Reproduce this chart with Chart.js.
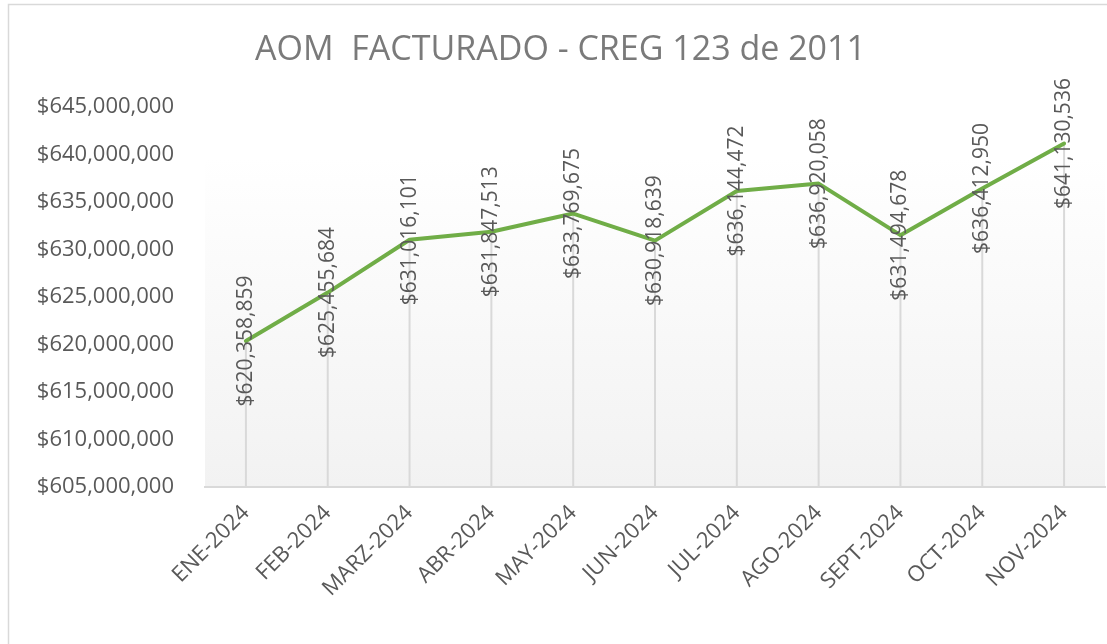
<!DOCTYPE html>
<html>
<head>
<meta charset="utf-8">
<script src="https://cdn.jsdelivr.net/npm/chart.js@4/dist/chart.umd.min.js"></script>
<style>
  html, body { margin: 0; padding: 0; background: #ffffff; }
  #wrap { width: 1107px; height: 644px; }
</style>
</head>
<body>
<div id="wrap"><canvas id="c" width="1107" height="644"></canvas></div>
<script>
const categories = ["ENE-2024","FEB-2024","MARZ-2024","ABR-2024","MAY-2024","JUN-2024","JUL-2024","AGO-2024","SEPT-2024","OCT-2024","NOV-2024"];
const aomValues = [620358859, 625455684, 631016101, 631847513, 633769675, 630918639, 636144472, 636920058, 631494678, 636412950, 641130536];
const yTickValues = [605000000, 610000000, 615000000, 620000000, 625000000, 630000000, 635000000, 640000000, 645000000];
const chartTitle = "AOM  FACTURADO - CREG 123 de 2011";

const FONT = "'Open Sans', 'DejaVu Sans', sans-serif";
const fmt = v => "$" + Math.round(v).toLocaleString("en-US");

const framePlugin = {
  id: "frame",
  beforeDraw(chart) {
    const ctx = chart.ctx;
    const a = chart.chartArea;
    ctx.save();
    ctx.fillStyle = "#ffffff";
    ctx.fillRect(0, 0, chart.width, chart.height);
    ctx.strokeStyle = "#d9d9d9";
    ctx.lineWidth = 1.5;
    ctx.strokeRect(8.5, 4.5, chart.width + 20, chart.height + 20);
    const gTop = a.top + 50;
    const g = ctx.createLinearGradient(0, gTop, 0, a.bottom);
    g.addColorStop(0, "#ffffff");
    g.addColorStop(1, "#f2f2f2");
    ctx.fillStyle = g;
    ctx.fillRect(a.left, gTop, a.right - a.left, a.bottom - gTop);
    ctx.restore();
  }
};

const dropLinePlugin = {
  id: "dropLines",
  beforeDatasetsDraw(chart) {
    const ctx = chart.ctx;
    const meta = chart.getDatasetMeta(0);
    const bottom = chart.chartArea.bottom;
    ctx.save();
    ctx.strokeStyle = "#d9d9d9";
    ctx.lineWidth = 2;
    meta.data.forEach(pt => {
      ctx.beginPath();
      ctx.moveTo(pt.x, pt.y);
      ctx.lineTo(pt.x, bottom);
      ctx.stroke();
    });
    ctx.restore();
  },
  afterDatasetsDraw(chart) {
    const ctx = chart.ctx;
    const meta = chart.getDatasetMeta(0);
    const vals = chart.data.datasets[0].data;
    ctx.save();
    ctx.fillStyle = "#595959";
    ctx.font = "21px " + FONT;
    ctx.textAlign = "center";
    ctx.textBaseline = "middle";
    meta.data.forEach((pt, i) => {
      ctx.save();
      ctx.translate(pt.x, pt.y);
      ctx.rotate(-Math.PI / 2);
      ctx.fillText(fmt(vals[i]), 0, 0);
      ctx.restore();
    });
    ctx.restore();
  }
};

new Chart(document.getElementById("c"), {
  type: "line",
  data: {
    labels: categories,
    datasets: [{
      label: "AOM",
      data: aomValues,
      borderColor: "#70AD47",
      backgroundColor: "#70AD47",
      borderWidth: 4,
      pointRadius: 0,
      pointHoverRadius: 0,
      tension: 0,
      borderJoinStyle: "round",
      borderCapStyle: "round",
      fill: false
    }]
  },
  options: {
    responsive: false,
    animation: false,
    events: [],
    layout: { padding: { left: 16, right: 2, top: 0, bottom: 0 } },
    plugins: {
      legend: { display: false },
      tooltip: { enabled: false },
      title: {
        display: true,
        text: chartTitle,
        color: "#7a7a7a",
        font: { family: FONT, size: 34, weight: "normal", lineHeight: 1.2 },
        padding: { top: 30, bottom: 36 }
      }
    },
    scales: {
      x: {
        offset: true,
        grid: { display: false, drawTicks: false },
        border: { display: true, color: "#d9d9d9", width: 2 },
        ticks: {
          color: "#595959",
          font: { family: FONT, size: 22 },
          minRotation: 45,
          maxRotation: 45,
          autoSkip: false,
          padding: 13
        },
        afterFit(scale) { scale.height = 157; }
      },
      y: {
        min: 605000000,
        max: 645000000,
        grid: { display: false, drawTicks: false },
        border: { display: false },
        afterBuildTicks(scale) { scale.ticks = yTickValues.map(v => ({ value: v })); },
        ticks: {
          color: "#595959",
          font: { family: FONT, size: 22 },
          padding: 31,
          callback: v => fmt(v)
        },
        afterFit(scale) { scale.width = 189; }
      }
    }
  },
  plugins: [framePlugin, dropLinePlugin]
});
</script>
</body>
</html>
